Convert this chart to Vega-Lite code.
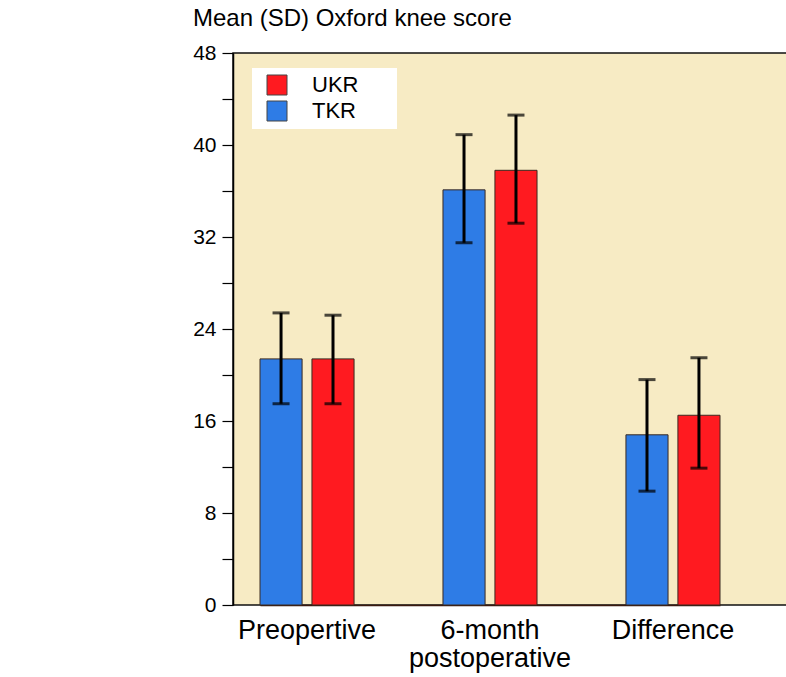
{
  "$schema": "https://vega.github.io/schema/vega-lite/v6.json",
  "autosize": {"type": "none"},
  "padding": {"left": 233, "top": 53, "right": 0, "bottom": 72},
  "width": 554,
  "height": 552,
  "background": "white",
  "config": {
    "font": "Liberation Sans",
    "view": {"fill": "#F7EBC4", "stroke": "#111111", "strokeWidth": 1.5}
  },
  "title": {
    "text": "Mean (SD) Oxford knee score",
    "anchor": "start",
    "frame": "group",
    "dx": -40,
    "offset": 11,
    "fontSize": 24,
    "fontWeight": "normal",
    "color": "#000000",
    "font": "Liberation Sans"
  },
  "data": {
    "values": [
      {"group": "Preopertive", "treatment": "TKR", "mean": 21.4, "lo": 17.5, "hi": 25.4},
      {"group": "Preopertive", "treatment": "UKR", "mean": 21.4, "lo": 17.5, "hi": 25.2},
      {"group": "6-month postoperative", "treatment": "TKR", "mean": 36.1, "lo": 31.5, "hi": 40.9},
      {"group": "6-month postoperative", "treatment": "UKR", "mean": 37.8, "lo": 33.2, "hi": 42.6},
      {"group": "Difference", "treatment": "TKR", "mean": 14.8, "lo": 9.9, "hi": 19.6},
      {"group": "Difference", "treatment": "UKR", "mean": 16.5, "lo": 11.9, "hi": 21.5}
    ]
  },
  "encoding": {
    "x": {
      "field": "group",
      "type": "nominal",
      "sort": ["Preopertive", "6-month postoperative", "Difference"],
      "scale": {"range": [27, 487], "paddingInner": 0.486, "paddingOuter": 0},
      "axis": {
        "title": null,
        "labelAngle": 0,
        "labelFontSize": 27,
        "labelColor": "#000000",
        "labelPadding": 12,
        "labelLineHeight": 28,
        "labelBaseline": "top",
        "ticks": false,
        "domainColor": "#3a1a10",
        "domainWidth": 1.5,
        "labelExpr": "datum.value == '6-month postoperative' ? ['6-month', 'postoperative'] : datum.value"
      }
    },
    "xOffset": {
      "field": "treatment",
      "type": "nominal",
      "sort": ["TKR", "UKR"],
      "scale": {"paddingInner": 0.19, "paddingOuter": 0}
    }
  },
  "layer": [
    {
      "mark": {"type": "bar", "stroke": "#3a2a20", "strokeWidth": 1},
      "encoding": {
        "y": {
          "field": "mean",
          "type": "quantitative",
          "scale": {"domain": [0, 48], "nice": false},
          "axis": {
            "title": null,
            "values": [0, 4, 8, 12, 16, 20, 24, 28, 32, 36, 40, 44, 48],
            "labelExpr": "datum.value % 8 == 0 ? datum.label : ''",
            "grid": false,
            "tickSize": 11,
            "tickColor": "#000000",
            "tickWidth": 1.2,
            "labelFontSize": 21,
            "labelColor": "#000000",
            "labelPadding": 6,
            "domainColor": "#000000",
            "domainWidth": 1.5
          }
        },
        "color": {
          "field": "treatment",
          "type": "nominal",
          "scale": {"domain": ["UKR", "TKR"], "range": ["#FF1A20", "#2E7CE6"]},
          "legend": {
            "title": null,
            "orient": "none",
            "legendX": 19,
            "legendY": 15,
            "fillColor": "#FFFFFF",
            "padding": 6,
            "symbolType": "square",
            "symbolSize": 400,
            "symbolStrokeColor": "#444444",
            "symbolStrokeWidth": 1,
            "symbolOffset": 8,
            "labelOffset": 24,
            "labelFontSize": 22,
            "labelColor": "#000000",
            "rowPadding": 2,
            "labelLimit": 300,
            "labelExpr": "datum.label + '\u2800\u2800'"
          }
        }
      }
    },
    {
      "mark": {"type": "rule", "color": "#000000", "strokeWidth": 3},
      "encoding": {
        "y": {"field": "lo", "type": "quantitative"},
        "y2": {"field": "hi"}
      }
    },
    {
      "mark": {"type": "tick", "color": "#000000", "thickness": 3, "size": 17},
      "encoding": {"y": {"field": "lo", "type": "quantitative"}}
    },
    {
      "mark": {"type": "tick", "color": "#000000", "thickness": 3, "size": 17},
      "encoding": {"y": {"field": "hi", "type": "quantitative"}}
    }
  ]
}
